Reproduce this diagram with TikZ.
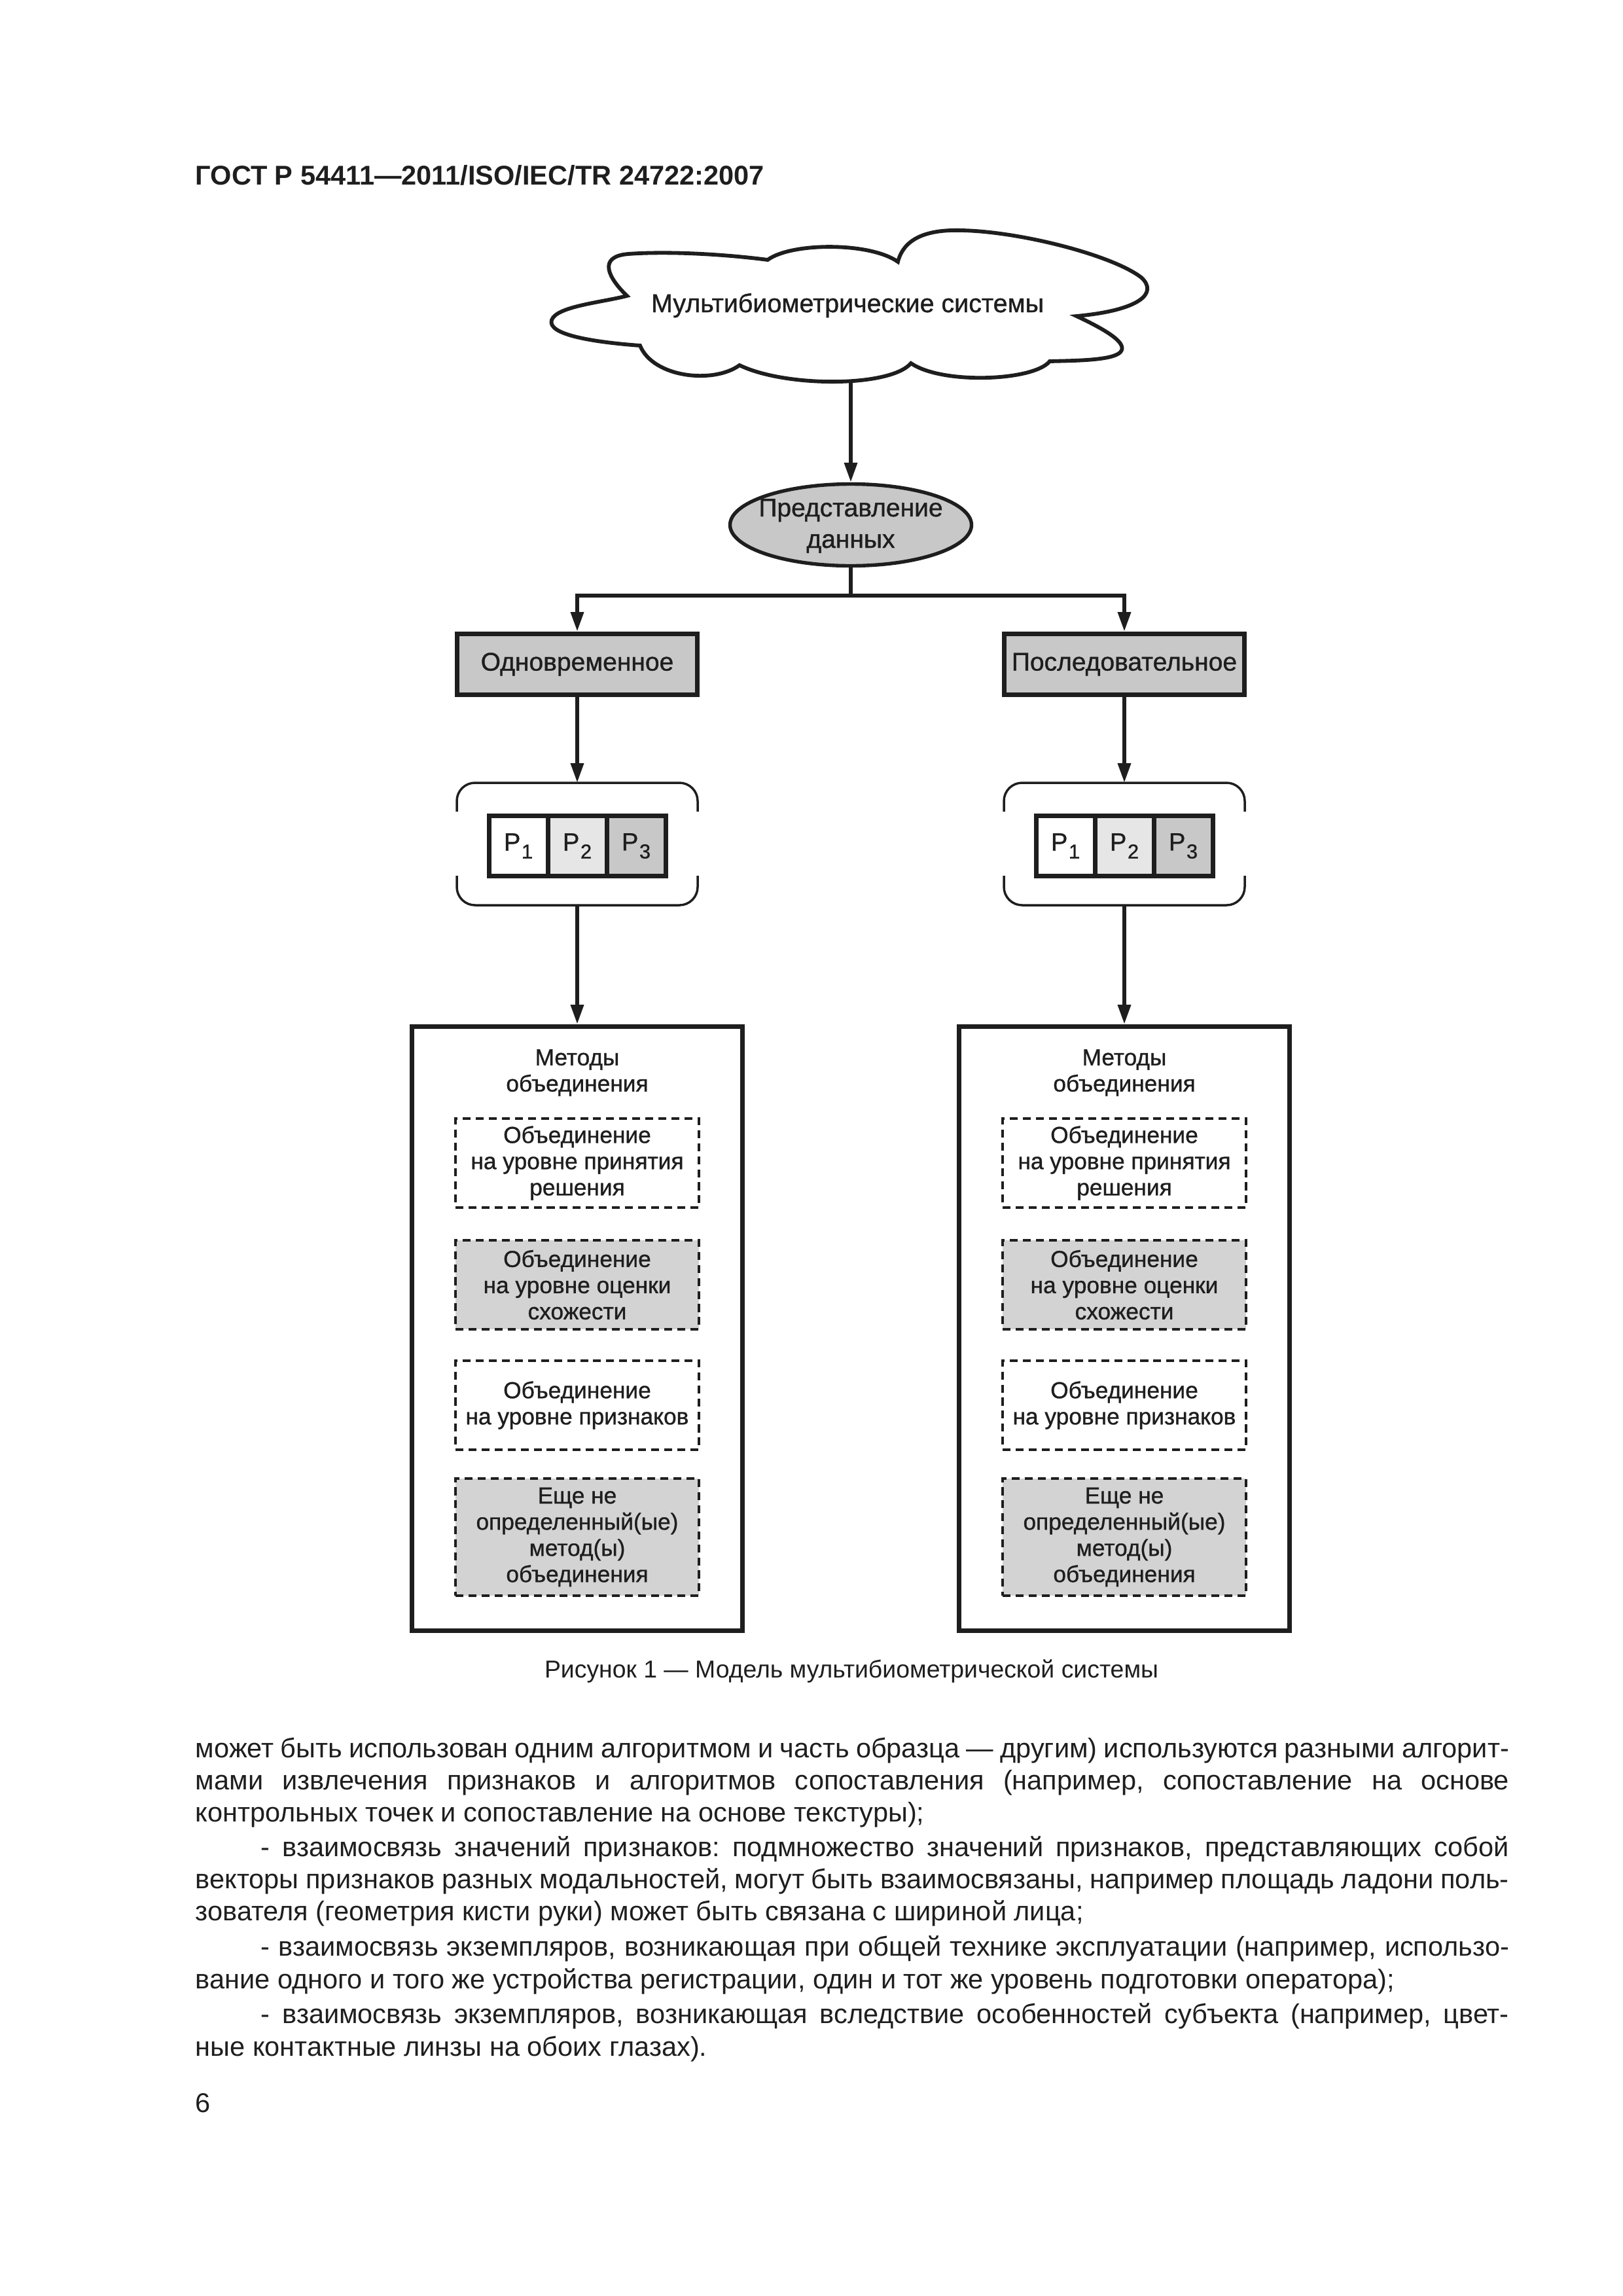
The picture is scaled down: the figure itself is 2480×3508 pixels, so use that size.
\documentclass[tikz,border=0pt]{standalone}
\usepackage{fontspec}
\setmainfont{Liberation Sans}
\newfontfamily\dfontfam{Liberation Sans}[BoldFont={Liberation Sans},BoldFeatures={FakeBold=1.0}]
\newcommand\dfont{\dfontfam\bfseries}
\usetikzlibrary{arrows.meta,shapes.geometric}
\def\PX{0.2409pt}
\definecolor{ink}{HTML}{1E1E1E}
\definecolor{gA}{HTML}{C8C8C8}
\definecolor{gB}{HTML}{E6E6E6}
\definecolor{gC}{HTML}{D3D3D3}
\newcommand\psub[1]{\kern0.4pt\raisebox{-2.9pt}{\fontsize{7.4}{8}\selectfont #1}}
\newcommand\bodyfont{\fontsize{10}{12}\selectfont\frenchspacing\spaceskip=2.78pt plus 5pt minus 1.3pt\relax}
\frenchspacing
\begin{document}
\begin{tikzpicture}[x=0.2409pt,y=-0.2409pt,
  conn/.style={draw=ink,line width=1.45pt,-{Triangle[length=7.2pt,width=4.6pt]}},
  plain/.style={draw=ink,line width=1.45pt},
  hdbox/.style={draw=ink,fill=gA,line width=1.69pt,minimum width=367*\PX,minimum height=93*\PX,inner sep=0pt,font=\dfont\fontsize{9.4}{11.5}\selectfont,text=ink},
  pcell/.style={draw=ink,line width=1.69pt,minimum width=90*\PX,minimum height=92*\PX,inner sep=0pt,font=\dfont\fontsize{9.2}{10}\selectfont,text=ink},
  bigbox/.style={draw=ink,line width=1.69pt,minimum width=505*\PX,minimum height=923*\PX,inner sep=0pt},
  dbox/.style={draw=ink,dash pattern=on 2.9pt off 1.9pt,line width=0.96pt,minimum width=372*\PX,inner sep=0pt,align=center,font=\dfont\fontsize{8.5}{9.64}\selectfont,text=ink},
  bracket/.style={draw=ink,line width=0.84pt,rounded corners=6.7pt},
  bodyl/.style={anchor=base west,inner sep=0pt,font=\bodyfont,text=ink},
]
\fill[white] (0,0) rectangle (2480,3508);
\useasboundingbox (0,0) rectangle (2480,3508);

% header
\node[anchor=base west,inner sep=0pt,text=ink,font=\bfseries\fontsize{10}{12}\selectfont] (hdr) at (298,282) {ГОСТ Р 54411—2011/ISO/IEC/TR 24722:2007};

% cloud
\draw[draw=ink,line width=1.4pt,fill=white]
 (958,452) .. controls (930,425) and (912,392) .. (960,388)
 .. controls (1030,383) and (1120,390) .. (1173,397)
 .. controls (1210,370) and (1330,370) .. (1372,400)
 .. controls (1380,368) and (1410,350) .. (1470,352)
 .. controls (1560,354) and (1700,390) .. (1744,424)
 .. controls (1770,448) and (1742,474) .. (1645,483)
 .. controls (1692,505) and (1724,525) .. (1712,538)
 .. controls (1700,551) and (1640,551) .. (1604,552)
 .. controls (1580,582) and (1440,588) .. (1392,555)
 .. controls (1360,592) and (1200,592) .. (1130,558)
 .. controls (1090,587) and (998,577) .. (978,528)
 .. controls (898,522) and (836,510) .. (843,489)
 .. controls (850,468) and (920,462) .. cycle;
\node[anchor=base,inner sep=0pt,text=ink,font=\dfont\fontsize{9.5}{11}\selectfont] (cloudt) at (1295,477) {Мультибиометрические системы};
\coordinate (cloudS) at (1300,584);

% ellipse
\node[ellipse,draw=ink,fill=gA,line width=1.3pt,minimum width=369*\PX,minimum height=125*\PX,inner sep=0pt] (ell) at (1300,802) {};
\node[align=center,inner sep=0pt,text=ink,font=\dfont\fontsize{9.4}{11.56}\selectfont] (ellt) at (1300,803.5) {Представление\\данных};
\draw[conn] (cloudS) -- (ell.north);

\coordinate (split) at (1300,910);
\draw[plain] (ell.south) -- (split);

\node[hdbox] (hL) at (882,1015) {Одновременное};
\node[hdbox] (hR) at (1718,1015) {Последовательное};
\draw[conn] (split) -| (hL.north);
\draw[conn] (split) -| (hR.north);

\foreach \c/\n in {882/L,1718/R}{
  \coordinate (bt\n) at (\c,1196);
  \coordinate (bb\n) at (\c,1383);
  \draw[bracket] ({\c-184},1240) |- ({\c+184},1196) -- ({\c+184},1240);
  \draw[bracket] ({\c-184},1338) |- ({\c+184},1383) -- ({\c+184},1338);
  \draw[conn] (h\n.south) -- (bt\n);
  \node[pcell,fill=white] (pa\n) at ({\c-90},1292.5) {P\psub{1}};
  \node[pcell,fill=gB] (pb\n) at (\c,1292.5) {P\psub{2}};
  \node[pcell,fill=gA] (pc\n) at ({\c+90},1292.5) {P\psub{3}};
  \node[bigbox] (m\n) at (\c,2030) {};
  \draw[conn] (bb\n) -- (m\n.north);
  \node[align=center,inner sep=0pt,text=ink,font=\dfont\fontsize{8.5}{9.64}\selectfont] (mt\n) at (\c,1639) {Методы\\объединения};
  \node[dbox,minimum height=136*\PX] (da\n) at (\c,1777) {Объединение\\на уровне принятия\\решения};
  \node[dbox,fill=gC,minimum height=136*\PX] (db\n) at (\c,1963) {Объединение\\на уровне оценки\\схожести};
  \node[dbox,minimum height=136*\PX] (dc\n) at (\c,2147) {Объединение\\на уровне признаков};
  \node[dbox,fill=gC,minimum height=179*\PX] (dd\n) at (\c,2348.5) {Еще не\\определенный(ые)\\метод(ы)\\объединения};
}

% caption
\node[anchor=base,inner sep=0pt,text=ink,font=\fontsize{9}{11}\selectfont] (cap) at (1301,2563) {Рисунок 1 — Модель мультибиометрической системы};

% body text
\node[bodyl] (b1) at (298,2685) {\makebox[483.5pt][s]{может быть использован одним алгоритмом и часть образца — другим) используются разными алгорит-}};
\node[bodyl] (b2) at (298,2734) {\makebox[483.5pt][s]{мами извлечения признаков и алгоритмов сопоставления (например, сопоставление на основе}};
\node[bodyl] (b3) at (298,2783) {контрольных точек и сопоставление на основе текстуры);};
\node[bodyl] (b4) at (398,2836) {\makebox[459.4pt][s]{- взаимосвязь значений признаков: подмножество значений признаков, представляющих собой}};
\node[bodyl] (b5) at (298,2885) {\makebox[483.5pt][s]{векторы признаков разных модальностей, могут быть взаимосвязаны, например площадь ладони поль-}};
\node[bodyl] (b6) at (298,2934) {зователя (геометрия кисти руки) может быть связана с шириной лица;};
\node[bodyl] (b7) at (398,2988) {\makebox[459.4pt][s]{- взаимосвязь экземпляров, возникающая при общей технике эксплуатации (например, использо-}};
\node[bodyl] (b8) at (298,3038) {вание одного и того же устройства регистрации, один и тот же уровень подготовки оператора);};
\node[bodyl] (b9) at (398,3091) {\makebox[459.4pt][s]{- взаимосвязь экземпляров, возникающая вследствие особенностей субъекта (например, цвет-}};
\node[bodyl] (b10) at (298,3141) {ные контактные линзы на обоих глазах).};
\node[bodyl] (pg) at (298,3227) {6};
\end{tikzpicture}
\end{document}
